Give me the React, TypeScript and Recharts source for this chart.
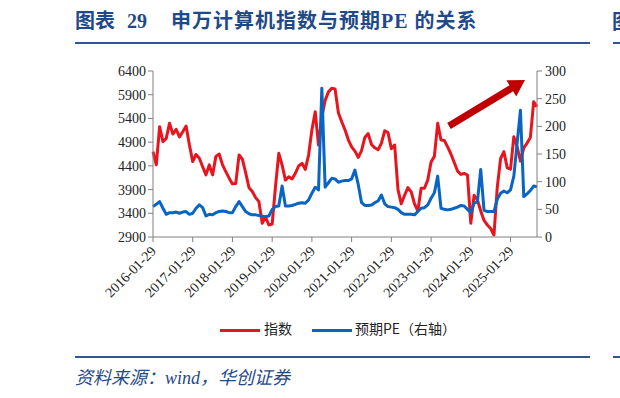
import { LineChart, Line, XAxis, YAxis } from 'recharts';

const years = ['2016', '2017', '2018', '2019', '2020', '2021', '2022', '2023', '2024', '2025'];
const months = ['01', '02', '03', '04', '05', '06', '07', '08', '09', '10', '11', '12'];
// monthly points, 2016-01 .. 2025-09
const dates = years.flatMap((y) => months.map((m) => `${y}-${m}-29`)).slice(0, 117);

// 申万计算机指数 (left axis)
const indexValues = [
  4700, 4420, 5225, 4910, 4980, 5300, 5070, 5170, 5010, 5120,
  5240, 4840, 4490, 4640, 4560, 4380, 4210, 4420, 4210, 4600,
  4650, 4420, 4280, 4140, 4020, 4030, 4630, 4540, 4250, 3940,
  3860, 3730, 3645, 3190, 3320, 3153, 3174, 3960, 4665, 4418,
  4100, 4170, 4123, 4243, 4397, 4453, 4327, 4628, 5155, 5541,
  4840, 5430, 5780, 5960, 6035, 6020, 5520, 5330, 5160, 4950,
  4800, 4710, 4580, 4720, 5000, 5080, 4850, 4780, 4738, 4880,
  5140, 5100, 4760, 4840, 3900, 3600, 3780, 3940, 3850, 3600,
  3450, 3927, 3927, 4100, 4480, 4600, 5296, 4945, 4935, 4800,
  4650, 4470, 4290, 4220, 4240, 4207, 3190, 3780, 3680, 3450,
  3250, 3153, 3080, 2942, 3950, 4550, 4700, 4360, 4330, 5015,
  4800, 4500, 4780, 4880, 5000, 5752, 5647,
];

// 预期PE (right axis)
const peValues = [
  55, 59, 64, 52, 41, 44, 44, 45, 43, 45,
  46, 41, 43, 52, 58, 53, 38, 41, 40, 44,
  46, 47, 46, 44, 44, 55, 64, 55, 46, 42,
  40, 40, 39, 37, 37, 38, 50, 55, 56, 92,
  56, 56, 57, 59, 61, 62, 61, 67, 79, 90,
  85, 269, 90, 98, 106, 105, 99, 101, 102, 102,
  105, 121, 95, 62, 57, 57, 58, 62, 65, 76,
  60, 55, 54, 53, 50, 44, 41, 41, 41, 40,
  46, 52, 53, 58, 70, 80, 110, 52, 50, 49,
  50, 52, 54, 57, 56, 50, 44, 61, 64, 122,
  48, 46, 46, 46, 68, 79, 83, 80, 85, 110,
  170, 229, 73, 78, 84, 92, 91,
];

const xTicks = years.map((y) => `${y}-01-29`);
const leftTicks = [2900, 3400, 3900, 4400, 4900, 5400, 5900, 6400];
const rightTicks = [0, 50, 100, 150, 200, 250, 300];

const data = dates.map((d, i) => ({ date: d, idx: indexValues[i], pe: peValues[i] }));

const RED = '#e8141e';
const BLUE = '#0a64c2';
const NAVY = '#1f4a8a';
const AXIS = '#808080';
const tickFont = { fontSize: 14, fontFamily: "'Liberation Serif', serif", fill: '#222' };

const DateTick = ({ x, y, payload }: any) => (
  <text
    x={0}
    y={0}
    transform={`translate(${x + 4},${y + 8}) rotate(-45)`}
    textAnchor="end"
    {...tickFont}
  >
    {payload.value}
  </text>
);

// decorative trend arrow
function Arrow() {
  const x1 = 449, y1 = 126, x2 = 525, y2 = 80;
  const len = Math.hypot(x2 - x1, y2 - y1);
  const ux = (x2 - x1) / len, uy = (y2 - y1) / len;
  const nx = -uy, ny = ux;
  const hw = 3.5, hh = 9.5, hl = 16;
  const bx = x2 - ux * hl, by = y2 - uy * hl;
  const pts = [
    [x1 + nx * hw, y1 + ny * hw],
    [bx + nx * hw, by + ny * hw],
    [bx + nx * hh, by + ny * hh],
    [x2, y2],
    [bx - nx * hh, by - ny * hh],
    [bx - nx * hw, by - ny * hw],
    [x1 - nx * hw, y1 - ny * hw],
  ].map((p) => p.join(',')).join(' ');
  return (
    <svg width={620} height={398} style={{ position: 'absolute', left: 0, top: 0, pointerEvents: 'none' }}>
      <polygon points={pts} fill="#c00000" />
    </svg>
  );
}

export default function App() {
  const titleFont = "'Liberation Serif', 'Noto Sans CJK SC', serif";
  return (
    <div style={{ position: 'absolute', left: 0, top: 0, width: 620, height: 398, background: '#fff', overflow: 'hidden' }}>
      {/* title */}
      <div style={{ position: 'absolute', left: 75, top: 8, color: NAVY, fontWeight: 'bold', fontSize: 20, fontFamily: titleFont, whiteSpace: 'nowrap', lineHeight: '26px' }}>
        <span>图表</span>
        <span style={{ position: 'absolute', left: 52 }}>29</span>
        <span style={{ position: 'absolute', left: 96, letterSpacing: 1 }}>申万计算机指数与预期PE 的关系</span>
      </div>
      <div style={{ position: 'absolute', left: 75, top: 42, width: 515, height: 2, background: '#2f5597' }} />
      <div style={{ position: 'absolute', left: 613, top: 42, width: 10, height: 2, background: '#2f5597' }} />
      <div style={{ position: 'absolute', left: 612, top: 8, color: NAVY, fontWeight: 'bold', fontSize: 20, fontFamily: "'Noto Sans CJK SC'", lineHeight: '26px' }}>图</div>

      <div style={{ position: 'absolute', left: 0, top: 0 }}>
        <LineChart width={620} height={330} data={data} margin={{ top: 71, right: 0, bottom: 0, left: 0 }}>
          <XAxis
            dataKey="date"
            ticks={xTicks}
            interval={0}
            height={93}
            tick={<DateTick />}
            tickSize={5}
            axisLine={{ stroke: AXIS }}
            tickLine={{ stroke: AXIS }}
          />
          <YAxis
            yAxisId="left"
            width={153}
            domain={[2900, 6400]}
            ticks={leftTicks}
            interval={0}
            tickSize={5}
            tickMargin={2}
            tick={tickFont}
            axisLine={{ stroke: AXIS }}
            tickLine={{ stroke: AXIS }}
          />
          <YAxis
            yAxisId="right"
            orientation="right"
            width={83}
            domain={[0, 300]}
            ticks={rightTicks}
            interval={0}
            tickSize={5}
            tickMargin={3}
            tick={tickFont}
            axisLine={{ stroke: AXIS }}
            tickLine={{ stroke: AXIS }}
          />
          <Line yAxisId="left" type="linear" dataKey="idx" name="指数" stroke={RED} strokeWidth={3} dot={false} isAnimationActive={false} strokeLinejoin="round" />
          <Line yAxisId="right" type="linear" dataKey="pe" name="预期PE（右轴）" stroke={BLUE} strokeWidth={3} dot={false} isAnimationActive={false} strokeLinejoin="round" />
        </LineChart>
      </div>

      <Arrow />

      {/* legend */}
      <div style={{ position: 'absolute', left: 220, top: 318, fontSize: 14, fontFamily: "'Noto Sans CJK SC', serif", color: '#222', whiteSpace: 'nowrap', lineHeight: '20px' }}>
        <span style={{ display: 'inline-block', width: 40, height: 3, background: RED, verticalAlign: 'middle' }} />
        <span style={{ marginLeft: 4 }}>指数</span>
        <span style={{ display: 'inline-block', width: 40, height: 3, background: BLUE, verticalAlign: 'middle', marginLeft: 20 }} />
        <span style={{ marginLeft: 3 }}>预期PE（右轴）</span>
      </div>

      <div style={{ position: 'absolute', left: 75, top: 356, width: 515, height: 2, background: '#2f5597' }} />
      <div style={{ position: 'absolute', left: 613, top: 356, width: 10, height: 2, background: '#2f5597' }} />

      <div style={{ position: 'absolute', left: 75, top: 366, fontSize: 18, fontStyle: 'italic', color: NAVY, fontFamily: titleFont, whiteSpace: 'nowrap', lineHeight: '24px' }}>
        资料来源：wind，华创证券
      </div>
    </div>
  );
}
